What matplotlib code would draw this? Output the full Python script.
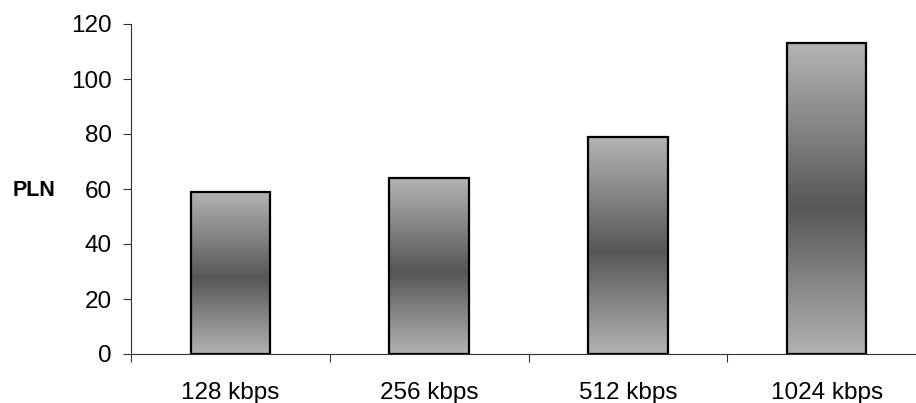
import numpy as np
import matplotlib
matplotlib.use("Agg")
import matplotlib.pyplot as plt
from matplotlib.colors import LinearSegmentedColormap

# data
categories = ["128 kbps", "256 kbps", "512 kbps", "1024 kbps"]
values = [59, 64, 79, 113]
y_ticks = [0, 20, 40, 60, 80, 100, 120]

# grey "metal" gradient used by the bars (bottom -> top)
_GRAD = LinearSegmentedColormap.from_list(
    "bar_grad", [(0.0, "#b2b2b2"), (0.47, "#575757"), (1.0, "#b4b4b4")]
)

plt.rcParams["font.family"] = ["Liberation Sans", "DejaVu Sans"]

fig = plt.figure(figsize=(9.16, 4.03), dpi=100, facecolor="white")
ax = fig.add_axes([131 / 916, 49 / 403, 795 / 916, 330 / 403])

x = np.arange(len(categories))
bars = ax.bar(x, values, width=0.4, color="none", edgecolor="black",
              linewidth=1.6, zorder=3)

grad = np.linspace(0, 1, 256).reshape(-1, 1)
for b in bars:
    x0, y0 = b.get_x(), b.get_y()
    w, h = b.get_width(), b.get_height()
    im = ax.imshow(grad, cmap=_GRAD, origin="lower", aspect="auto",
                   extent=[x0, x0 + w, y0, y0 + h], zorder=2,
                   interpolation="bilinear")
    im.set_clip_path(b)

ax.set_xlim(-0.5, len(categories) - 0.5)
ax.set_ylim(0, 120)
ax.set_yticks(y_ticks)

ax.set_xticks(x)
ax.set_xticklabels(categories, fontsize=17.5)
ax.set_xticks(np.arange(len(categories) + 1) - 0.5, minor=True)
ax.tick_params(axis="x", which="major", length=0, pad=20)
ax.tick_params(axis="x", which="minor", length=6, width=0.8, color="#333333",
               direction="out")
ax.tick_params(axis="y", length=6, width=0.8, color="#333333", pad=8,
               labelsize=17.5)

for side in ("top", "right"):
    ax.spines[side].set_visible(False)
for side in ("left", "bottom"):
    ax.spines[side].set_color("#333333")
    ax.spines[side].set_linewidth(0.8)

fig.text(34 / 916, (403 - 190) / 403, "PLN", fontsize=15.5, fontweight="bold",
         ha="center", va="center")

fig.savefig("out.png", dpi=100, facecolor="white")
